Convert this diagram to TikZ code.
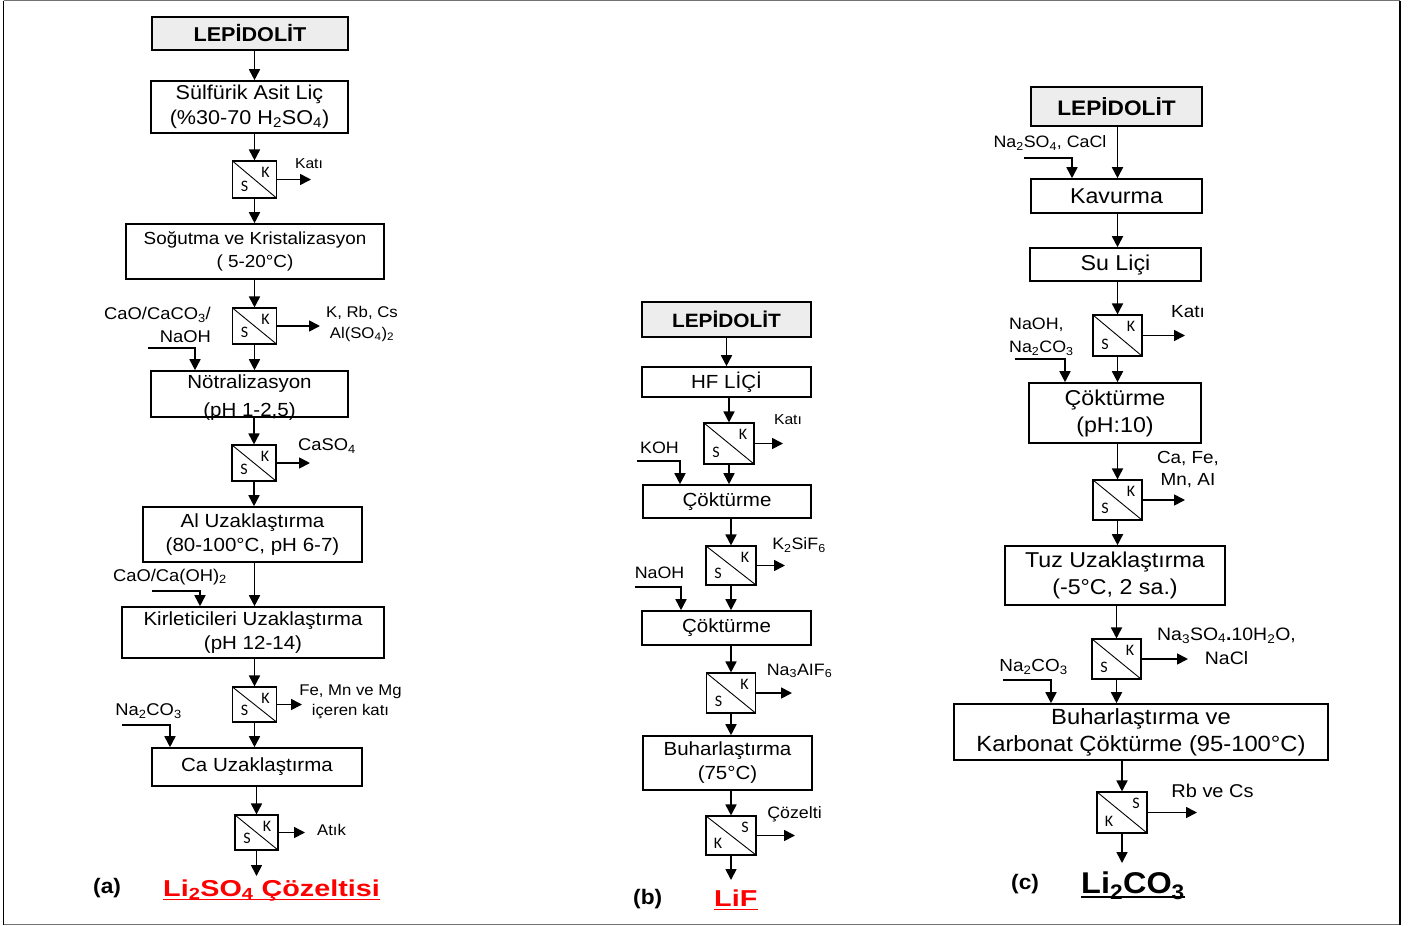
\documentclass[tikz,border=0pt]{standalone}
\usepackage{fontspec}
\setmainfont{Liberation Sans}[FakeStretch=1.08]
\newfontfamily\ksfont{Carlito}
\newfontfamily\ttlfont{Liberation Sans}[FakeStretch=1.25]
\usetikzlibrary{arrows.meta}
\newcommand{\chsub}[1]{\textsubscript{#1}}

\begin{document}
\begin{tikzpicture}
[x=1pt,y=-1pt,
process/.style={draw,line width=1.6pt,align=center,inner sep=0pt,
font=\fontsize{19}{24}\selectfont},
sz/.style 2 args={minimum width=#1pt,minimum height=#2pt},
mineral/.style={process,fill=black!7,font=\bfseries\fontsize{20}{24}\selectfont},
ks/.style={draw=none,fill=none,inner sep=0pt,font=\ksfont\fontsize{16}{16}\selectfont},
filt/.style 2 args={draw,line width=1.1pt,fill=white,inner sep=0pt,
path picture={
\draw[line width=0.9pt] (path picture bounding box.north west) -- (path picture bounding box.south east);
\node[ks] at ([xshift=-11pt,yshift=-11.5pt]path picture bounding box.north east) {#1};
\node[ks] at ([xshift=12pt,yshift=12pt]path picture bounding box.south west) {#2};}},
lbl/.style={inner sep=0pt,align=center,font=\fontsize{16.5}{22}\selectfont},
small/.style={lbl,font=\fontsize{14.5}{20}\selectfont},
lblc/.style={lbl,font=\fontsize{17.5}{23}\selectfont},
ttl/.style={inner sep=0pt,anchor=base west,font=\bfseries\fontsize{21}{24}\selectfont},
post/.style={-{Triangle[length=11pt,width=11pt]},line width=1.7pt}]

\useasboundingbox (0,0) rectangle (1408,926);
% frame
\draw[black!55,line width=1pt] (3.5,0.8) -- (1400,0.8);
\draw[black!55,line width=1pt] (3.5,924) -- (1400,924);
\draw[line width=1.6pt] (3.5,0.5) -- (3.5,924.5);
\draw[line width=1.6pt] (1400,0.5) -- (1400,924.5);

% (a) sulfuric acid route
\node[mineral,sz={196}{33}] (a0) at (250,33.5) {LEPİDOLİT};
\node[process,sz={197}{52},font=\fontsize{20}{25}\selectfont] (a1) at (249.5,107) {Sülfürik Asit Liç\\(\%30-70 H\chsub{2}SO\chsub{4})};
\node[filt={K}{S},sz={44}{37}] (af1) at (254.5,179.5) {};
\node[process,sz={258}{55},font=\fontsize{17.5}{23}\selectfont] (a2) at (255,251.5) {Soğutma ve Kristalizasyon\\( 5-20°C)};
\node[filt={K}{S},sz={44}{36}] (af2) at (254.5,326) {};
\node[process,sz={197}{46}] (a3) at (249.5,394) {Nötralizasyon\\\raisebox{-4pt}[0pt][0pt]{(pH 1-2,5)}};
\node[filt={K}{S},sz={44}{36}] (af3) at (254,463) {};
\node[process,sz={219}{55}] (a4) at (252.5,534.5) {Al Uzaklaştırma\\(80-100°C, pH 6-7)};
\node[process,sz={262}{51}] (a5) at (253,632.5) {Kirleticileri Uzaklaştırma\\(pH 12-14)};
\node[filt={K}{S},sz={44}{35}] (af4) at (254.5,704.5) {};
\node[process,sz={210}{38}] (a6) at (257,767) {Ca Uzaklaştırma};
\node[filt={K}{S},sz={43}{35}] (af5) at (256.5,832.5) {};
\coordinate (aend) at (256.5,876);

\draw[post] (a0.south -| af1) -- (a1.north -| af1);
\draw[post] (a1.south -| af1) -- (af1);
\draw[post] (af1) -- (a2.north -| af1);
\draw[post] (a2.south -| af2) -- (af2);
\draw[post] (af2) -- (a3.north -| af2);
\draw[post] (a3.south -| af3) -- (af3);
\draw[post] (af3) -- (a4.north -| af3);
\draw[post] (a4.south -| af4) -- (a5.north -| af4);
\draw[post] (a5.south -| af4) -- (af4);
\draw[post] (af4) -- (a6.north -| af4);
\draw[post] (a6.south -| af5) -- (af5);
\draw[post] (af5) -- (aend);

\coordinate (ain1) at (148,348); \coordinate (aic1) at (195,348);
\draw[post] (ain1) -- (aic1) -- (aic1 |- a3.north);
\node[lbl,align=right,anchor=east,font=\fontsize{17}{23}\selectfont] (afd1) at (211,325) {CaO/CaCO\chsub{3}/\\NaOH};
\coordinate (ain2) at (152,591); \coordinate (aic2) at (200,591);
\draw[post] (ain2) -- (aic2) -- (aic2 |- a5.north);
\node[lbl,font=\fontsize{17}{23}\selectfont] (afd2) at (170,577) {CaO/Ca(OH)\chsub{2}};
\coordinate (ain3) at (122,725); \coordinate (aic3) at (170,725);
\draw[post] (ain3) -- (aic3) -- (aic3 |- a6.north);
\node[lbl,font=\fontsize{17}{23}\selectfont] (afd3) at (148.5,711) {Na\chsub{2}CO\chsub{3}};

\coordinate (aout1) at (311,179.5);
\draw[post] (af1) -- (af1 -| aout1);
\node[small] (ao1) at (309,164) {Katı};
\coordinate (aout2) at (320,326);
\draw[post] (af2) -- (af2 -| aout2);
\node[lbl,font=\fontsize{15.5}{21}\selectfont] (ao2) at (362,323.5) {K, Rb, Cs\\Al(SO\chsub{4})\chsub{2}};
\coordinate (aout3) at (310,463);
\draw[post] (af3) -- (af3 -| aout3);
\node[lbl,font=\fontsize{17}{22}\selectfont] (ao3) at (327,446) {CaSO\chsub{4}};
\coordinate (aout4) at (302,704.5);
\draw[post] (af4) -- (af4 -| aout4);
\node[lbl,font=\fontsize{15.5}{20}\selectfont] (ao4) at (350.5,702) {Fe, Mn ve Mg\\içeren katı};
\coordinate (aout5) at (305,832.5);
\draw[post] (af5) -- (af5 -| aout5);
\node[lbl,font=\fontsize{15.5}{20}\selectfont] (ao5) at (331.5,830) {Atık};

\node[ttl] (alab) at (93,893) {(a)};
\node[ttl,red,font=\ttlfont\bfseries\fontsize{23}{26}\selectfont] (aprod) at (163,896) {Li\chsub{2}SO\chsub{4} Çözeltisi};
\draw[red,line width=1.9pt] ([yshift=-3.5pt]aprod.base west) -- ([yshift=-3.5pt]aprod.base east);

% (b) HF route
\node[mineral,sz={169}{35},font=\bfseries\fontsize{19.3}{24}\selectfont] (b0) at (726.5,319.5) {LEPİDOLİT};
\node[process,sz={169}{30}] (b1) at (726.5,382) {HF LİÇİ};
\node[filt={K}{S},sz={50}{41}] (bf1) at (729,443.5) {};
\node[process,sz={168}{33}] (b2) at (727,501.5) {Çöktürme};
\node[filt={K}{S},sz={50}{39}] (bf2) at (731,565.5) {};
\node[process,sz={169}{34}] (b3) at (726.5,628) {Çöktürme};
\node[filt={K}{S},sz={49}{40}] (bf3) at (731,693) {};
\node[process,sz={169}{54}] (b4) at (727.5,763) {Buharlaştırma\\(75°C)};
\node[filt={S}{K},sz={50}{39}] (bf4) at (731,835.5) {};
\coordinate (bend) at (731,880);

\draw[post] (b0.south -| b1) -- (b1.north);
\draw[post] (b1.south -| bf1) -- (bf1);
\draw[post] (bf1) -- (b2.north -| bf1);
\draw[post] (b2.south -| bf2) -- (bf2);
\draw[post] (bf2) -- (b3.north -| bf2);
\draw[post] (b3.south -| bf3) -- (bf3);
\draw[post] (bf3) -- (b4.north -| bf3);
\draw[post] (b4.south -| bf4) -- (bf4);
\draw[post] (bf4) -- (bend);

\coordinate (bin1) at (637,461); \coordinate (bic1) at (680,461);
\draw[post] (bin1) -- (bic1) -- (bic1 |- b2.north);
\node[lbl] (bfd1) at (659.5,448) {KOH};
\coordinate (bin2) at (635,587); \coordinate (bic2) at (681,587);
\draw[post] (bin2) -- (bic2) -- (bic2 |- b3.north);
\node[lbl] (bfd2) at (659.5,573) {NaOH};

\coordinate (bout1) at (783,443.5);
\draw[post] (bf1) -- (bf1 -| bout1);
\node[small] (bo1) at (788,420) {Katı};
\coordinate (bout2) at (785,565.5);
\draw[post] (bf2) -- (bf2 -| bout2);
\node[lbl] (bo2) at (799,545) {K\chsub{2}SiF\chsub{6}};
\coordinate (bout3) at (792,693);
\draw[post] (bf3) -- (bf3 -| bout3);
\node[lbl] (bo3) at (799.5,671) {Na\chsub{3}AIF\chsub{6}};
\coordinate (bout4) at (795,835.5);
\draw[post] (bf4) -- (bf4 -| bout4);
\node[lbl] (bo4) at (794.5,814) {Çözelti};

\node[ttl] (blab) at (633,904) {(b)};
\node[ttl,red,font=\ttlfont\bfseries\fontsize{23}{26}\selectfont] (bprod) at (714,906) {LiF};
\draw[red,line width=1.9pt] ([yshift=-3.5pt]bprod.base west) -- ([yshift=-3.5pt]bprod.base east);

% (c) roasting route
\node[mineral,sz={171}{39},font=\bfseries\fontsize{21}{24}\selectfont] (c0) at (1116.5,106.5) {LEPİDOLİT};
\node[process,sz={171}{34},font=\fontsize{21.5}{27}\selectfont] (c1) at (1116.5,196) {Kavurma};
\node[process,sz={171}{33},font=\fontsize{21.5}{27}\selectfont] (c2) at (1115.5,264.5) {Su Liçi};
\node[filt={K}{S},sz={49}{41}] (cf1) at (1117.5,335.5) {};
\node[process,sz={172}{60},font=\fontsize{21.5}{27}\selectfont] (c3) at (1115,413) {Çöktürme\\(pH:10)};
\node[filt={K}{S},sz={49}{40}] (cf2) at (1117.5,500) {};
\node[process,sz={220}{59},font=\fontsize{21.5}{27}\selectfont] (c4) at (1115,575.5) {Tuz Uzaklaştırma\\(-5°C, 2 sa.)};
\node[filt={K}{S},sz={49}{40}] (cf3) at (1116.5,659) {};
\node[process,sz={374}{56},font=\fontsize{22}{27}\selectfont] (c5) at (1141,732) {Buharlaştırma ve\\Karbonat Çöktürme (95-100°C)};
\node[filt={S}{K},sz={50}{41}] (cf4) at (1122,812.5) {};
\coordinate (cend) at (1122,863);

\draw[post] (c0.south -| cf1) -- (c1.north -| cf1);
\draw[post] (c1.south -| cf1) -- (c2.north -| cf1);
\draw[post] (c2.south -| cf1) -- (cf1);
\draw[post] (cf1) -- (c3.north -| cf1);
\draw[post] (c3.south -| cf2) -- (cf2);
\draw[post] (cf2) -- (c4.north -| cf2);
\draw[post] (c4.south -| cf3) -- (cf3);
\draw[post] (cf3) -- (c5.north -| cf3);
\draw[post] (c5.south -| cf4) -- (cf4);
\draw[post] (cf4) -- (cend);

\coordinate (cin1) at (1024,158); \coordinate (cic1) at (1072,158);
\draw[post] (cin1) -- (cic1) -- (cic1 |- c1.north);
\node[lbl] (cfd1) at (1050,143) {Na\chsub{2}SO\chsub{4}, CaCl};
\coordinate (cin2) at (1015,359); \coordinate (cic2) at (1065,359);
\draw[post] (cin2) -- (cic2) -- (cic2 |- c3.north);
\node[lbl,align=left,anchor=west,font=\fontsize{16.5}{23}\selectfont] (cfd2) at (1009,336.5) {NaOH,\\Na\chsub{2}CO\chsub{3}};
\coordinate (cin3) at (1003,680); \coordinate (cic3) at (1051,680);
\draw[post] (cin3) -- (cic3) -- (cic3 |- c5.north);
\node[lblc] (cfd3) at (1033.5,667) {Na\chsub{2}CO\chsub{3}};

\coordinate (cout1) at (1185,335.5);
\draw[post] (cf1) -- (cf1 -| cout1);
\node[lblc] (co1) at (1188,312) {Katı};
\coordinate (cout2) at (1185,500);
\draw[post] (cf2) -- (cf2 -| cout2);
\node[lblc,font=\fontsize{17.5}{22}\selectfont] (co2) at (1188,470) {Ca, Fe,\\Mn, AI};
\coordinate (cout3) at (1188,659);
\draw[post] (cf3) -- (cf3 -| cout3);
\node[lblc,font=\fontsize{18}{24}\selectfont] (co3) at (1226.5,646) {Na\chsub{3}SO\chsub{4}\textbf{.}10H\chsub{2}O,\\NaCl};
\coordinate (cout4) at (1197,812.5);
\draw[post] (cf4) -- (cf4 -| cout4);
\node[lblc,font=\fontsize{18.5}{24}\selectfont] (co4) at (1212.5,791) {Rb ve Cs};

\node[ttl] (clab) at (1011,889) {(c)};
\node[ttl,font=\bfseries\fontsize{30}{32}\selectfont] (cprod) at (1081,893) {Li\chsub{2}CO\chsub{3}};
\draw[line width=2pt] ([yshift=-4pt]cprod.base west) -- ([yshift=-4pt]cprod.base east);

\end{tikzpicture}
\end{document}
